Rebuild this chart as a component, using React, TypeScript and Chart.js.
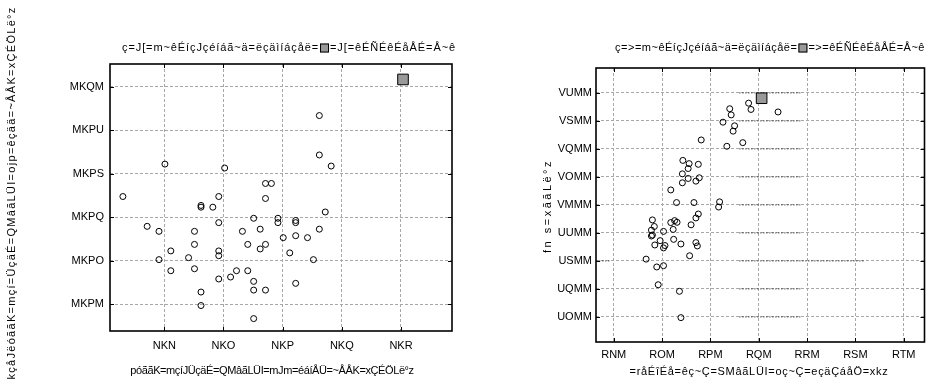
import React, { useEffect, useRef } from "react";
import { Chart, registerables } from "chart.js";
Chart.register(...registerables);

const FONT = "'Liberation Sans', Arial, Helvetica, sans-serif";

// ---------- Left chart data ----------
const leftX = [1.030, 1.101, 1.202, 1.362, 1.362, 1.382, 1.271, 1.281, 1.271, 1.192, 1.162, 1.162, 1.182, 1.372, 1.251, 1.292, 1.292, 1.322, 1.322, 1.192, 1.071, 1.091, 1.151, 1.232, 1.262, 1.362, 1.322, 1.301, 1.342, 1.151, 1.241, 1.271, 1.262, 1.111, 1.192, 1.192, 1.312, 1.141, 1.091, 1.352, 1.111, 1.151, 1.222, 1.241, 1.212, 1.192, 1.251, 1.322, 1.162, 1.251, 1.271, 1.162, 1.251];
const leftY = [0.3496, 0.3645, 0.3627, 0.3868, 0.3687, 0.3636, 0.3556, 0.3556, 0.3487, 0.3496, 0.3455, 0.3447, 0.3447, 0.3425, 0.3396, 0.3396, 0.3376, 0.3386, 0.3376, 0.3376, 0.3359, 0.3336, 0.3336, 0.3336, 0.3346, 0.3346, 0.3316, 0.3307, 0.3307, 0.3276, 0.3276, 0.3276, 0.3255, 0.3246, 0.3246, 0.3224, 0.3237, 0.3215, 0.3206, 0.3206, 0.3155, 0.3164, 0.3155, 0.3155, 0.3126, 0.3117, 0.3106, 0.3097, 0.3057, 0.3066, 0.3066, 0.2995, 0.2935];
const leftRefX = [1.5034];
const leftRefY = [0.4034];
const leftXTicks = [1.1, 1.2, 1.3, 1.4, 1.5];
const leftXTickLabels = ["NKN", "NKO", "NKP", "NKQ", "NKR"];
const leftYTicks = [0.30, 0.32, 0.34, 0.36, 0.38, 0.40];
const leftYTickLabels = ["MKPM", "MKPO", "MKPQ", "MKPS", "MKPU", "MKQM"];
const leftTitleA = "ç=J[=m~êÉíçJçéíáã~ä=ëçäìíáçåë=";
const leftTitleB = "=J[=êÉÑÉêÉåÅÉ=Å~ê";
const leftXLabel = "póããK=mçíJÜçäÉ=QMâãLÜI=mJm=éáíÅÜ=~ÅÅK=xÇÉÖLë°z";
const leftYLabel = "kçåJëóããK=mçí=ÜçäÉ=QMâãLÜI=ojp=êçää=~ÅÅK=xÇÉÖLë°z";

// ---------- Right chart data ----------
const rightX = [537.9, 538.4, 534.0, 534.3, 544.0, 532.6, 535.0, 534.7, 536.7, 533.4, 528.1, 524.3, 525.6, 527.5, 525.4, 524.2, 525.4, 527.7, 527.0, 524.2, 521.8, 523.0, 526.6, 531.9, 531.7, 527.5, 527.0, 526.0, 518.0, 518.4, 517.8, 518.0, 517.8, 521.8, 522.6, 523.1, 522.3, 520.3, 519.6, 518.5, 520.6, 520.3, 522.4, 523.9, 527.0, 527.3, 525.7, 516.7, 518.9, 520.3, 519.2, 523.6, 523.9];
const rightY = [9727, 9682, 9687, 9643, 9664, 9591, 9565, 9527, 9445, 9419, 9464, 9318, 9295, 9290, 9260, 9222, 9189, 9194, 9170, 9158, 9107, 9017, 9017, 9022, 8985, 8935, 8907, 8858, 8893, 8846, 8820, 8785, 8778, 8874, 8888, 8876, 8825, 8811, 8745, 8714, 8710, 8693, 8754, 8721, 8731, 8707, 8637, 8613, 8557, 8566, 8430, 8383, 8195];
const rightRefX = [540.6];
const rightRefY = [9762];
const rightXTicks = [510, 520, 530, 540, 550, 560, 570];
const rightXTickLabels = ["RNM", "ROM", "RPM", "RQM", "RRM", "RSM", "RTM"];
const rightYTicks = [8200, 8400, 8600, 8800, 9000, 9200, 9400, 9600, 9800];
const rightYTickLabels = ["UOMM", "UQMM", "USMM", "UUMM", "VMMM", "VOMM", "VQMM", "VSMM", "VUMM"];
const rightTitleA = "ç=>=m~êÉíçJçéíáã~ä=ëçäìíáçåë=";
const rightTitleB = "=>=êÉÑÉêÉåÅÉ=Å~ê";
const rightXLabel = "=råÉîÉå=êç~Ç=SMâãLÜI=oç~Ç=eçäÇáåÖ=xkz";
const rightYLabel = "fn s=xããLë°z";
// dotted grid artefact segments (right chart)
const dotSegY = [9800, 9600, 9400, 9200, 9000, 8800, 8600, 8400, 8200, 8600];
const dotSegX0 = [536.0, 536.0, 536.0, 536.0, 536.0, 536.0, 536.0, 536.0, 536.0, 506.4];
const dotSegX1 = [548.6, 548.6, 548.6, 548.6, 548.6, 548.6, 562.0, 548.6, 548.6, 509.2];

const boxPlugin = {
  id: "boxAndTitle",
  afterDraw(chart: any, _args: any, opts: any) {
    const { ctx, chartArea } = chart;
    const { left, right, top, bottom } = chartArea;
    ctx.save();
    // inward tick marks
    ctx.strokeStyle = "#000";
    ctx.lineWidth = 1;
    const xs = chart.scales.x;
    const ys = chart.scales.y;
    ctx.beginPath();
    xs.ticks.forEach((t: any) => {
      const p = Math.round(xs.getPixelForValue(t.value)) + 0.5;
      ctx.moveTo(p, bottom);
      ctx.lineTo(p, bottom - 4);
      ctx.moveTo(p, top);
      ctx.lineTo(p, top + 4);
    });
    ys.ticks.forEach((t: any) => {
      const p = Math.round(ys.getPixelForValue(t.value)) + 0.5;
      ctx.moveTo(left, p);
      ctx.lineTo(left + 4, p);
      ctx.moveTo(right, p);
      ctx.lineTo(right - 4, p);
    });
    ctx.stroke();
    // box
    ctx.lineWidth = 1.6;
    ctx.strokeRect(left, top, right - left, bottom - top);

    // axis labels
    ctx.fillStyle = "#000";
    ctx.textBaseline = "middle";
    ctx.textAlign = "center";
    const xl = opts.xLabel;
    ctx.font = `${xl.size}px ${FONT}`;
    ctx.letterSpacing = `${xl.ls}px`;
    ctx.fillText(xl.text, xl.cx, xl.cy);
    const yl = opts.yLabel;
    ctx.font = `${yl.size}px ${FONT}`;
    ctx.letterSpacing = `${yl.ls}px`;
    ctx.save();
    ctx.translate(yl.cx, yl.cy);
    ctx.rotate(-Math.PI / 2);
    ctx.fillText(yl.text, 0, 0);
    ctx.restore();

    // title with legend square
    const t = opts.title;
    ctx.font = `${t.size}px ${FONT}`;
    ctx.letterSpacing = `${t.ls}px`;
    ctx.textAlign = "left";
    const wa = ctx.measureText(t.a).width;
    const wb = ctx.measureText(t.b).width;
    const sq = 9;
    const gap = 1;
    const total = wa + gap + sq + gap + wb;
    let x = t.cx - total / 2;
    const y = t.cy;
    ctx.fillText(t.a, x, y);
    x += wa + gap;
    ctx.fillStyle = "#999999";
    ctx.fillRect(x, y - sq / 2, sq, sq);
    ctx.lineWidth = 1;
    ctx.strokeStyle = "#000";
    ctx.strokeRect(x + 0.5, y - sq / 2 + 0.5, sq - 1, sq - 1);
    x += sq + gap;
    ctx.fillStyle = "#000";
    ctx.fillText(t.b, x, y);
    ctx.restore();
  },
};

function makeConfig(p: any) {
  const grid = {
    color: "#a8a8a8",
    lineWidth: 1,
    drawTicks: false,
  };
  const border = { display: false, dash: [3, 2] };
  const datasets: any[] = [
    {
      data: p.refX.map((x: number, i: number) => ({ x, y: p.refY[i] })),
      pointStyle: "rect",
      pointRadius: 7.5,
      pointBackgroundColor: "#999999",
      pointBorderColor: "#000",
      pointBorderWidth: 1,
    },
    {
      data: p.xs.map((x: number, i: number) => ({ x, y: p.ys[i] })),
      pointStyle: "circle",
      pointRadius: 3,
      pointBackgroundColor: "rgba(0,0,0,0)",
      pointBorderColor: "#000",
      pointBorderWidth: 1,
    },
  ];
  (p.segY || []).forEach((y: number, i: number) => {
    datasets.push({
      data: [
        { x: p.segX0[i], y },
        { x: p.segX1[i], y },
      ],
      showLine: true,
      borderColor: "#000",
      borderWidth: 1,
      borderDash: [1, 2],
      pointRadius: 0,
    });
  });
  return {
    type: "scatter",
    data: { datasets },
    plugins: [boxPlugin],
    options: {
      animation: false,
      responsive: false,
      devicePixelRatio: 1,
      layout: { padding: { left: p.padL, right: p.padR, top: p.padT, bottom: 0 } },
      plugins: {
        legend: { display: false },
        tooltip: { enabled: false },
        boxAndTitle: {
          title: { a: p.titleA, b: p.titleB, cx: p.titleCx, cy: 48, size: 11, ls: p.titleLs },
          xLabel: { text: p.xLabel, cx: p.xLabelCx, cy: p.xLabelCy, size: 11, ls: p.xLabelLs },
          yLabel: { text: p.yLabel, cx: p.yLabelCx, cy: p.yLabelCy, size: 11, ls: p.yLabelLs },
        },
      },
      scales: {
        x: {
          type: "linear",
          min: p.xMin,
          max: p.xMax,
          grid: { ...grid },
          border: { ...border },
          afterBuildTicks: (s: any) => {
            s.ticks = p.xTicks.map((v: number) => ({ value: v }));
          },
          afterFit: (s: any) => {
            s.height = p.xAxisH;
          },
          ticks: {
            color: "#000",
            font: { family: FONT, size: 11 },
            padding: p.xTickPad,
            maxRotation: 0,
            callback: (_v: any, i: number) => p.xTickLabels[i],
          },
        },
        y: {
          type: "linear",
          min: p.yMin,
          max: p.yMax,
          grid: { ...grid },
          border: { ...border },
          afterBuildTicks: (s: any) => {
            s.ticks = p.yTicks.map((v: number) => ({ value: v }));
          },
          afterFit: (s: any) => {
            s.width = p.yAxisW;
          },
          ticks: {
            color: "#000",
            font: { family: FONT, size: 11 },
            padding: p.yTickPad,
            callback: (_v: any, i: number) => p.yTickLabels[i],
          },
        },
      },
    },
  };
}

function ChartCanvas({ cfg, width, height, left }: any) {
  const ref = useRef<HTMLCanvasElement | null>(null);
  useEffect(() => {
    if (!ref.current) return;
    const chart = new Chart(ref.current, cfg);
    return () => chart.destroy();
  }, []);
  return (
    <canvas
      ref={ref}
      width={width}
      height={height}
      style={{ position: "absolute", left, top: 0, width, height }}
    />
  );
}

export default function App() {
  const leftCfg = makeConfig({
    xs: leftX, ys: leftY, refX: leftRefX, refY: leftRefY,
    xMin: 1.0082, xMax: 1.5862, yMin: 0.2878, yMax: 0.4105,
    xTicks: leftXTicks, xTickLabels: leftXTickLabels,
    yTicks: leftYTicks, yTickLabels: leftYTickLabels,
    titleA: leftTitleA, titleB: leftTitleB, titleCx: 289, titleLs: 0.9,
    xLabel: leftXLabel, xLabelCx: 272, xLabelCy: 371, xLabelLs: -0.4,
    yLabel: leftYLabel, yLabelCx: 12, yLabelCy: 193, yLabelLs: 1.3,
    padL: 0, padR: 14, padT: 64, yAxisW: 110, xAxisH: 56, xTickPad: 8, yTickPad: 6,
  });
  const rightCfg = makeConfig({
    xs: rightX, ys: rightY, refX: rightRefX, refY: rightRefY,
    segY: dotSegY, segX0: dotSegX0, segX1: dotSegX1,
    xMin: 506.33, xMax: 574.3, yMin: 8021, yMax: 9978,
    xTicks: rightXTicks, xTickLabels: rightXTickLabels,
    yTicks: rightYTicks, yTickLabels: rightYTickLabels,
    titleA: rightTitleA, titleB: rightTitleB, titleCx: 304, titleLs: 0.5,
    xLabel: rightXLabel, xLabelCx: 293, xLabelCy: 372, xLabelLs: 0.7,
    yLabel: rightYLabel, yLabelCx: 82, yLabelCy: 206, yLabelLs: 2.5,
    padL: 70, padR: 4, padT: 68, yAxisW: 60, xAxisH: 45, xTickPad: 6, yTickPad: 4,
  });
  return (
    <div style={{ position: "absolute", left: 0, top: 0, width: 933, height: 387, background: "#fff" }}>
      <ChartCanvas cfg={leftCfg} width={466} height={387} left={0} />
      <ChartCanvas cfg={rightCfg} width={467} height={387} left={466} />
    </div>
  );
}
